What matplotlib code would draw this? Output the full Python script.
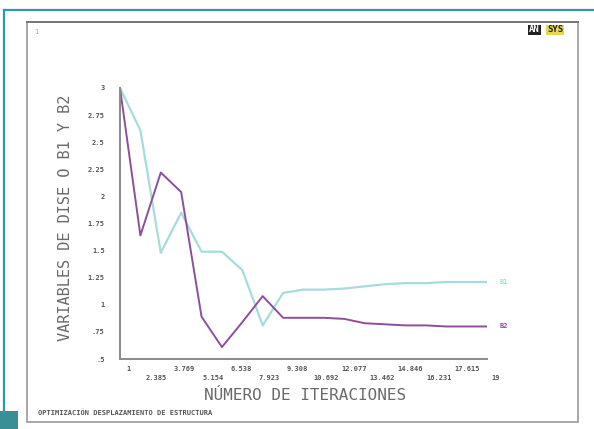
import matplotlib
matplotlib.use("Agg")
import matplotlib.pyplot as plt
from matplotlib.patches import Rectangle
from matplotlib.lines import Line2D

# iteration number and design variables B1 / B2
iteraciones = list(range(1, 20))
b1 = [3.0, 2.61, 1.48, 1.85, 1.49, 1.49, 1.32, 0.81, 1.11, 1.14,
      1.14, 1.15, 1.17, 1.19, 1.20, 1.20, 1.21, 1.21, 1.21]
b2 = [3.0, 1.64, 2.22, 2.04, 0.89, 0.61, 0.84, 1.08, 0.88, 0.88,
      0.88, 0.87, 0.83, 0.82, 0.81, 0.81, 0.80, 0.80, 0.80]

y_ticks = [0.5, 0.75, 1.0, 1.25, 1.5, 1.75, 2.0, 2.25, 2.5, 2.75, 3.0]
y_labels = [".5", ".75", "1", "1.25", "1.5", "1.75", "2", "2.25", "2.5", "2.75", "3"]
x_ticks = [1, 2.385, 3.769, 5.154, 6.538, 7.923, 9.308, 10.692,
           12.077, 13.462, 14.846, 16.231, 17.615, 19]
x_labels = ["1", "2.385", "3.769", "5.154", "6.538", "7.923", "9.308", "10.692",
            "12.077", "13.462", "14.846", "16.231", "17.615", "19"]

c_b1 = "#a6dcdc"
c_b2 = "#8c4f9c"
c_txt = "#6a6a6a"
mono = "DejaVu Sans Mono"

fig = plt.figure(figsize=(5.94, 4.29), dpi=100)
fig.patch.set_facecolor("white")

W, H = 594.0, 429.0


def fx(px):
    return px / W


def fy(py):
    return 1 - py / H


# outer frame of the page
fig.add_artist(Line2D([fx(4), fx(594)], [fy(10), fy(10)], color="#2a9aaa", lw=1.6))
fig.add_artist(Line2D([fx(4), fx(4)], [fy(10), fy(412)], color="#2a9aaa", lw=1.6))
fig.add_artist(Rectangle((0, 0), fx(18), fy(411), color="#3a8f96", lw=0))

# graphics window border
fig.add_artist(Rectangle((fx(27), fy(422)), fx(578 - 27), fy(22) - fy(422),
                         fill=False, edgecolor="#9a9a9a", lw=1.2))
fig.add_artist(Line2D([fx(27), fx(578)], [fy(22), fy(22)], color="#777777", lw=1.4))

fig.text(fx(34), fy(32), "1", fontsize=5, color="#9ab", family=mono, va="center")

# ANSYS logo
fig.text(fx(529), fy(30), "AN", fontsize=6.5, weight="bold", color="white",
         family=mono, va="center", ha="left",
         bbox=dict(boxstyle="square,pad=0.1", fc="#222222", ec="none"))
fig.text(fx(547), fy(30), "SYS", fontsize=6.5, weight="bold", color="#222222",
         family=mono, va="center", ha="left",
         bbox=dict(boxstyle="square,pad=0.1", fc="#e6d84a", ec="none"))

ax = fig.add_axes([fx(120), fy(359), fx(487) - fx(120), fy(88) - fy(359)])
ax.plot(iteraciones, b1, color=c_b1, lw=1.6)
ax.plot(iteraciones, b2, color=c_b2, lw=1.4)

ax.set_xlim(1, 19)
ax.set_ylim(0.5, 3.0)
for s in ["top", "right"]:
    ax.spines[s].set_visible(False)
for s in ["left", "bottom"]:
    ax.spines[s].set_color("#8a8a8a")
    ax.spines[s].set_linewidth(1.4)

ax.set_yticks(y_ticks)
ax.set_yticklabels(y_labels, fontsize=5, color="#555555", family=mono, weight="bold")
ax.tick_params(axis="y", length=0, pad=11)

ax.set_xticks(x_ticks)
ax.set_xticklabels([])
ax.tick_params(axis="x", length=0)
for i, (xv, lab) in enumerate(zip(x_ticks, x_labels)):
    off = 0.025 if i % 2 == 0 else 0.058
    ax.text(xv + 0.4, -off, lab, transform=ax.get_xaxis_transform(),
            fontsize=5, color="#555555", family=mono, weight="bold",
            ha="center", va="top")

# curve labels at the right end
ax.text(19.6, b1[-1], "B1", fontsize=5, color=c_b1, family=mono,
        weight="bold", va="center", clip_on=False)
ax.text(19.6, b2[-1], "B2", fontsize=5, color=c_b2, family=mono,
        weight="bold", va="center", clip_on=False)

fig.text(fx(305), fy(395), "NÚMERO DE ITERACIONES", fontsize=11.5, color=c_txt,
         family=mono, ha="center", va="center")
fig.text(fx(66), fy(218), "VARIABLES DE DISE O B1 Y B2", fontsize=11, color=c_txt,
         family=mono, ha="center", va="center", rotation=90)
fig.text(fx(38), fy(413), "OPTIMIZACIÓN DESPLAZAMIENTO DE ESTRUCTURA", fontsize=5,
         color="#555555", family=mono, weight="bold", ha="left", va="center")

fig.savefig("out.png", dpi=100)
